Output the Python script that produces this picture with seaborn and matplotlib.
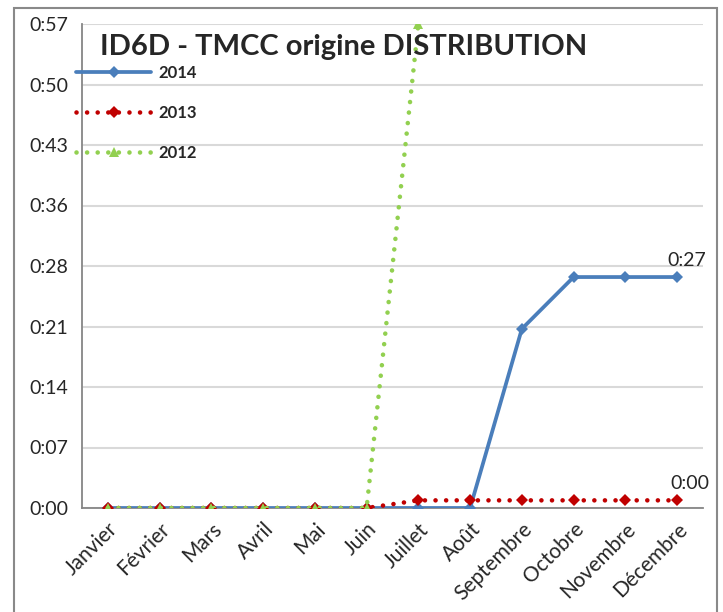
import matplotlib
matplotlib.use("Agg")
import matplotlib.pyplot as plt
import seaborn as sns
import numpy as np
import pandas as pd
from matplotlib.patches import Rectangle

months = ["Janvier", "Février", "Mars", "Avril", "Mai", "Juin", "Juillet",
          "Août", "Septembre", "Octobre", "Novembre", "Décembre"]
# values in minutes
v2014 = [0, 0, 0, 0, 0, 0, 0, 0, 21.1, 27.2, 27.2, 27.2]
v2013 = [0, 0, 0, 0, 0, 0, 0.9, 0.9, 0.9, 0.9, 0.9, 0.9]
v2012 = [0, 0, 0, 0, 0, 0, 57, np.nan, np.nan, np.nan, np.nan, np.nan]
ytick_labels = ["0:00", "0:07", "0:14", "0:21", "0:28", "0:36", "0:43", "0:50", "0:57"]
title = "ID6D - TMCC origine DISTRIBUTION"
label_2014 = "0:27"
label_2013 = "0:00"

sns.set_style("white")
plt.rcParams["font.family"] = ["Lato", "DejaVu Sans"]

fig = plt.figure(figsize=(7.23, 6.12), dpi=100)
ax = fig.add_axes([82/723, 1-508/612, (703-82)/723, (508-24)/612])

x = np.arange(len(months))
df = pd.DataFrame({"x": x, "2014": v2014, "2013": v2013, "2012": v2012})

blue = "#4A7EBB"
red = "#C00000"
green = "#92D050"
dot = (0, (0.01, 2.3))

sns.lineplot(data=df, x="x", y="2012", ax=ax, color=green, lw=3.3, linestyle=dot,
             dash_capstyle="round", marker="^", markersize=7, markeredgewidth=0,
             label="2012", zorder=5, clip_on=True)
sns.lineplot(data=df, x="x", y="2013", ax=ax, color=red, lw=3.3, linestyle=dot,
             dash_capstyle="round", marker="D", markersize=6, markeredgewidth=0,
             label="2013", zorder=4)
sns.lineplot(data=df, x="x", y="2014", ax=ax, color=blue, lw=2.7,
             marker="D", markersize=6, markeredgewidth=0, label="2014", zorder=3)

ax.set_xlim(-0.5, len(months) - 0.5)
ax.set_ylim(0, 57)
yt = np.linspace(0, 57, 9)
ax.set_yticks(yt)
ax.set_yticklabels(ytick_labels, fontsize=14)
ax.set_xticks(x)
ax.set_xticklabels(months, rotation=45, ha="right", rotation_mode="anchor", fontsize=15)
ax.set_xticks(np.arange(-0.5, len(months)), minor=True)
ax.tick_params(axis="x", which="major", length=0, pad=8)
ax.tick_params(axis="x", which="minor", length=6, width=1.3, color="#868686", direction="out")
ax.tick_params(axis="y", length=6, width=1.3, color="#868686", direction="out", pad=4)
ax.set_xlabel("")
ax.set_ylabel("")
ax.grid(axis="y", color="#D9D9D9", lw=1.5)
ax.set_axisbelow(True)
for s in ["top", "right"]:
    ax.spines[s].set_visible(False)
for s in ["left", "bottom"]:
    ax.spines[s].set_color("#868686")
    ax.spines[s].set_linewidth(1.3)

ax.annotate(label_2014, xy=(x[-1], v2014[-1]), xytext=(10, 8), textcoords="offset pixels",
            ha="center", va="bottom", fontsize=14)
ax.annotate(label_2013, xy=(x[-1], v2013[-1]), xytext=(13, 8), textcoords="offset pixels",
            ha="center", va="bottom", fontsize=14)

fig.text(100/723, 1-47/612, title, fontsize=21, fontweight="bold", va="center", ha="left")

h, l = ax.get_legend_handles_labels()
order = [l.index("2014"), l.index("2013"), l.index("2012")]
leg = ax.legend([h[i] for i in order], [l[i] for i in order], loc="upper left",
                bbox_to_anchor=(76/723, 1-65/612), bbox_transform=fig.transFigure,
                frameon=False, handlelength=4.5, labelspacing=1.45, handletextpad=0.42,
                prop={"weight": "bold", "size": 12}, borderaxespad=0, borderpad=0)

fig.add_artist(Rectangle((14/723, -0.02), (717-14)/723, (612-8)/612 + 0.02,
                         transform=fig.transFigure, fill=False, edgecolor="#898989", lw=1.5))

fig.savefig("out.png", dpi=100)
